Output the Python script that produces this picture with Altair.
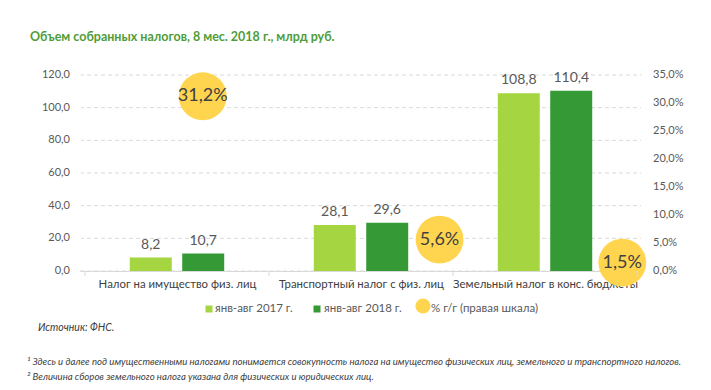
import json
import altair as alt
import pandas as pd

# ---------------- data ----------------
categories = ["Налог на имущество физ. лиц",
              "Транспортный налог с физ. лиц",
              "Земельный налог в конс. бюджеты"]
series = ["янв-авг 2017 г.", "янв-авг 2018 г."]
v2017 = [8.2, 28.1, 108.8]
v2018 = [10.7, 29.6, 110.4]
yoy_pct = [31.2, 5.6, 1.5]
left_ticks = [0, 20, 40, 60, 80, 100, 120]
right_ticks = [0, 5, 10, 15, 20, 25, 30, 35]

title_text = "Объем собранных налогов, 8 мес. 2018 г., млрд руб."
legend_bubble = "% г/г (правая шкала)"
source_text = "Источник: ФНС."
note1 = ("¹ Здесь и далее под имущественными налогами понимается совокупность налога "
         "на имущество физических лиц, земельного и транспортного налогов.")
note2 = "² Величина сборов земельного налога указана для физических и юридических лиц."

# ---------------- style ----------------
C_LIGHT = "#a5d641"
C_DARK = "#359a35"
C_YELLOW = "#ffd54f"
C_GRID = "#d9d9d9"
C_TEXT = "#595959"
C_DARKTEXT = "#404040"
C_TITLE = "#4f9d38"
FONT = "Lato"
BAR_SHIFT = 0.1425          # half distance between paired bars (in category units)
BUBBLE_SHIFT = [0.14, 0.427, 0.42]  # bubble placement within each category
W, H = 562, 196

rows = []
for i, c in enumerate(categories):
    rows.append({"ci": i, "cat": c, "s": series[0], "v": v2017[i]})
    rows.append({"ci": i, "cat": c, "s": series[1], "v": v2018[i]})
bars_df = pd.DataFrame(rows)
bub_df = pd.DataFrame({"ci": list(range(len(categories))), "p": yoy_pct})
lt_df = pd.DataFrame({"v": left_ticks})
rt_df = pd.DataFrame({"p": right_ticks})

label_expr = json.dumps(categories, ensure_ascii=False) + "[datum.value]"
xscale = alt.Scale(domain=[-0.5, 2.5], nice=False, zero=False)
xaxis = alt.Axis(values=[0, 1, 2], labelExpr=label_expr, ticks=False, grid=False,
                 domain=True, domainColor=C_GRID, title=None, labelFontSize=11.4,
                 labelColor=C_DARKTEXT, labelPadding=7, labelFont=FONT,
                 labelLimit=400, labelOverlap=False)
xenc = alt.X("xpos:Q", scale=xscale, axis=xaxis)

yleft = alt.Y("v:Q", scale=alt.Scale(domain=[0, 120], nice=False), axis=None)
yright = alt.Y("p:Q", scale=alt.Scale(domain=[0, 35], nice=False), axis=None)

# left scale: gridlines + tick labels
grid = alt.Chart(lt_df).mark_rule(color=C_GRID, strokeDash=[4, 3]).encode(
    y=yleft, x=alt.value(0), x2=alt.value(W))
left_labels = alt.Chart(lt_df).transform_calculate(
    lbl="replace(format(datum.v, '.1f'), '.', ',')"
).mark_text(align="right", baseline="middle", fontSize=11, color=C_TEXT, font=FONT).encode(
    y=yleft, x=alt.value(-10), text="lbl:N")

# white masks over the plot-area side edges (hide the frame's vertical sides)
edge_mask = alt.Chart(pd.DataFrame({"e": [0, W]})).mark_rule(
    color="white", strokeWidth=2
).encode(x=alt.X("e:Q", scale=None, axis=None), y=alt.value(0), y2=alt.value(H - 1))

base_bars = alt.Chart(bars_df).transform_calculate(
    xpos=f"datum.ci + (datum.s == '{series[0]}' ? -{BAR_SHIFT} : {BAR_SHIFT})",
    lbl="replace(format(datum.v, '.1f'), '.', ',')",
)
bars = base_bars.mark_bar(size=42).encode(
    x=xenc, y=yleft,
    color=alt.Color("s:N", scale=alt.Scale(domain=series, range=[C_LIGHT, C_DARK]),
                    legend=None),
)
bar_labels = base_bars.mark_text(baseline="bottom", dy=-6, fontSize=14,
                                 color=C_TEXT, font=FONT).encode(
    x=xenc, y=yleft, text="lbl:N")

# right scale: tick labels + bubbles
right_labels = alt.Chart(rt_df).transform_calculate(
    lbl="replace(format(datum.p, '.1f'), '.', ',') + '%'"
).mark_text(align="left", baseline="middle", fontSize=11, color=C_TEXT, font=FONT).encode(
    y=yright, x=alt.value(W + 11), text="lbl:N")

base_bub = alt.Chart(bub_df).transform_calculate(
    xpos=f"datum.ci + {json.dumps(BUBBLE_SHIFT)}[datum.ci]",
    lbl="replace(format(datum.p, '.1f'), '.', ',') + '%'",
)
bubbles = base_bub.mark_circle(size=2290, opacity=1, color=C_YELLOW).encode(
    x=xenc, y=yright)
bub_text = base_bub.mark_text(fontSize=18, color=C_DARKTEXT, font=FONT).encode(
    x=xenc, y=yright, text="lbl:N")

# category divider ticks
div_df = pd.DataFrame({"xpos": [-0.5, 0.5, 1.5, 2.5]})
dividers = alt.Chart(div_df).mark_rule(color=C_GRID).encode(
    x=xenc, y=alt.value(H), y2=alt.value(H + 5))


def txt(text, x, y, **kw):
    return alt.Chart(alt.Data(values=[{}])).mark_text(
        text=text, align=kw.pop("align", "left"), baseline="middle", font=FONT, **kw
    ).encode(x=alt.value(x), y=alt.value(y))


def sym(shape, color, size, x, y):
    return alt.Chart(alt.Data(values=[{}])).mark_point(
        shape=shape, filled=True, color=color, size=size, opacity=1
    ).encode(x=alt.value(x), y=alt.value(y))


annotations = [
    txt(title_text, -50, -38, fontSize=12.5, fontWeight="bold", color=C_TITLE),
    sym("square", C_LIGHT, 49, 129, 234),
    txt(series[0], 135, 234, fontSize=11.5, color=C_TEXT),
    sym("square", C_DARK, 49, 237, 234),
    txt(series[1], 244, 234, fontSize=11.5, color=C_TEXT),
    sym("circle", C_YELLOW, 230, 343, 231),
    txt(legend_bubble, 351, 234, fontSize=11.5, color=C_TEXT),
    txt(source_text, -42, 253, fontSize=10.5, fontStyle="italic", color=C_DARKTEXT),
    txt(note1, -53, 287, fontSize=9.6, fontStyle="italic", color=C_DARKTEXT),
    txt(note2, -53, 302, fontSize=9.6, fontStyle="italic", color=C_DARKTEXT),
]

left = alt.layer(grid, left_labels, edge_mask, bars, bar_labels)
right = alt.layer(right_labels, bubbles, bub_text)

chart = alt.layer(left, right, dividers, *annotations).resolve_scale(
    y="independent"
).properties(
    width=W, height=H,
    autosize=alt.AutoSizeParams(type="none"),
    padding={"left": 72, "top": 67, "right": 61, "bottom": 111},
).configure(font=FONT, view=alt.ViewConfig(stroke="transparent", strokeWidth=0))

chart.save("out.html", embed_options={"renderer": "svg", "actions": False})
